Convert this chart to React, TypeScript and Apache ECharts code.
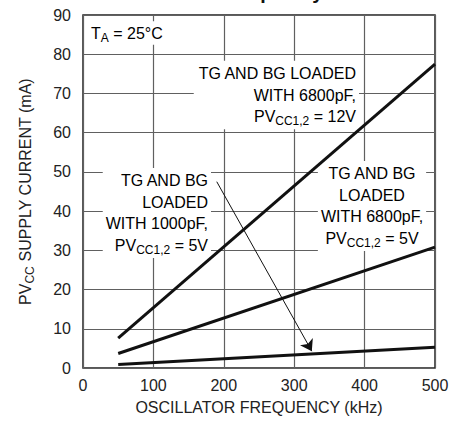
import React, { useEffect, useRef } from "react";
import * as echarts from "echarts";

const frequency = [50, 500];
const load6800pF12V = [7.6, 77.5];
const load6800pF5V = [3.7, 30.8];
const load1000pF5V = [0.9, 5.3];
const arrowFrom = [190, 47.5];
const arrowTo = [325, 4.3];
const xTicks = [0, 100, 200, 300, 400, 500];
const yTicks = [0, 10, 20, 30, 40, 50, 60, 70, 80, 90];

const FONT = "'Liberation Sans', Arial, sans-serif";

const richStyles = {
  a: { fontSize: 16, fontFamily: FONT, color: "#222", lineHeight: 21.5 },
  s: { fontSize: 12, fontFamily: FONT, color: "#222", lineHeight: 13, verticalAlign: "bottom" as const },
};

export default function App() {
  const ref = useRef<HTMLDivElement>(null);
  useEffect(() => {
    const chart = echarts.init(ref.current!, null, { renderer: "svg" });
    const pairs = (ys: number[]) => frequency.map((f, i) => [f, ys[i]]);
    const lineSeries = (name: string, ys: number[], extra: any = {}) => ({
      type: "line",
      name,
      data: pairs(ys),
      showSymbol: false,
      symbol: "none",
      lineStyle: { color: "#111", width: 3 },
      z: 5,
      ...extra,
    });
    chart.setOption({
      animation: false,
      backgroundColor: "#fff",
      grid: {
        left: 83,
        right: 31,
        top: 15,
        bottom: 55,
        show: true,
        borderColor: "#222",
        borderWidth: 1.5,
        backgroundColor: "transparent",
      },
      xAxis: {
        type: "value",
        min: xTicks[0],
        max: xTicks[xTicks.length - 1],
        interval: 100,
        name: "OSCILLATOR FREQUENCY (kHz)",
        nameLocation: "middle",
        nameGap: 31,
        nameTextStyle: { fontSize: 16, fontFamily: FONT, color: "#222" },
        axisLine: { show: false },
        axisTick: { show: false },
        axisLabel: { fontSize: 16, fontFamily: FONT, color: "#222", margin: 9 },
        splitLine: { show: true, lineStyle: { color: "#606060", width: 1.2 } },
      },
      yAxis: {
        type: "value",
        min: yTicks[0],
        max: yTicks[yTicks.length - 1],
        interval: 10,
        name: "{a|PV}{s|CC}{a| SUPPLY CURRENT (mA)}",
        nameLocation: "middle",
        nameGap: 47,
        nameTextStyle: { rich: richStyles },
        axisLine: { show: false },
        axisTick: { show: false },
        axisLabel: { fontSize: 16, fontFamily: FONT, color: "#222", margin: 12 },
        splitLine: { show: true, lineStyle: { color: "#606060", width: 1.2 } },
      },
      series: [
        lineSeries("6800pF 12V", load6800pF12V),
        lineSeries("6800pF 5V", load6800pF5V),
        lineSeries("1000pF 5V", load1000pF5V, {
          markLine: {
            silent: true,
            symbol: ["none", "arrow"],
            symbolSize: 11,
            label: { show: false },
            lineStyle: { color: "#111", width: 1, type: "solid" },
            data: [[{ coord: arrowFrom }, { coord: arrowTo }]],
          },
        }),
      ],
      graphic: [
        {
          type: "text",
          x: 259,
          y: -8,
          style: {
            text: "vs Frequency",
            font: "bold 20px 'Liberation Sans', Arial, sans-serif",
            fill: "#111",
            align: "center",
            verticalAlign: "middle",
          },
        },
        {
          type: "text",
          x: 90,
          y: 33,
          z: 3,
          style: {
            text: "{a|T}{s|A}{a| = 25°C}",
            rich: richStyles,
            align: "left",
            verticalAlign: "middle",
            backgroundColor: "#fff",
            padding: [1, 2, 1, 1],
          },
        },
        {
          type: "text",
          x: 359,
          y: 95,
          z: 3,
          style: {
            text: "{a|TG AND BG LOADED}\n{a|WITH 6800pF,}\n{a|PV}{s|CC1,2}{a| = 12V}",
            rich: richStyles,
            align: "right",
            verticalAlign: "middle",
            backgroundColor: "#fff",
            padding: [2, 3, 2, 4],
          },
        },
        {
          type: "text",
          x: 211,
          y: 213,
          z: 3,
          style: {
            text: "{a|TG AND BG}\n{a|LOADED}\n{a|WITH 1000pF,}\n{a|PV}{s|CC1,2}{a| = 5V}",
            rich: richStyles,
            align: "right",
            verticalAlign: "middle",
            backgroundColor: "#fff",
            padding: [2, 3, 2, 3],
          },
        },
        {
          type: "text",
          x: 372,
          y: 206,
          z: 3,
          style: {
            text: "{a|TG AND BG}\n{a|LOADED}\n{a|WITH 6800pF,}\n{a|PV}{s|CC1,2}{a| = 5V}",
            rich: richStyles,
            align: "center",
            verticalAlign: "middle",
            backgroundColor: "#fff",
            padding: [2, 3, 2, 3],
          },
        },
      ],
    });
    return () => chart.dispose();
  }, []);
  return (
    <div
      ref={ref}
      style={{ position: "fixed", left: 0, top: 0, width: 466, height: 423, background: "#fff" }}
    />
  );
}
